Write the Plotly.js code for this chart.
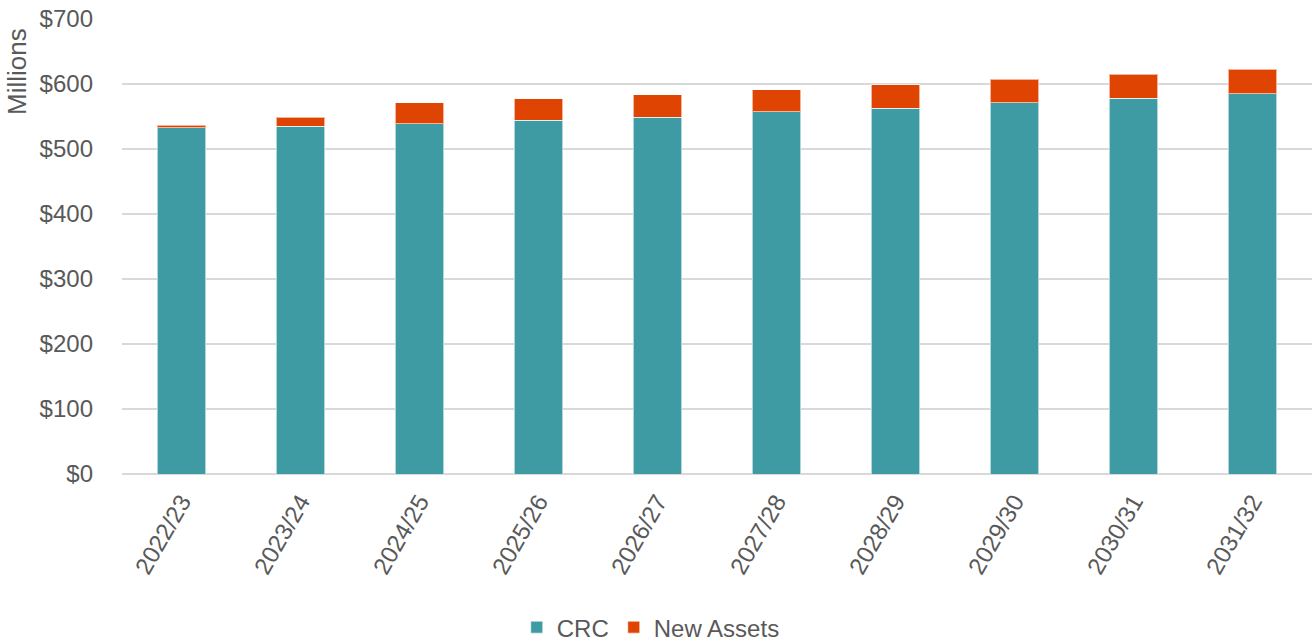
<!DOCTYPE html>
<html>
<head>
<meta charset="utf-8">
<script src="https://cdn.plot.ly/plotly-3.0.1.min.js"></script>
<style>html,body{margin:0;padding:0;background:#fff;}#chart{width:1312px;height:641px;}</style>
</head>
<body>
<div id="chart"></div>
<script>
const categories = ["2022/23","2023/24","2024/25","2025/26","2026/27","2027/28","2028/29","2029/30","2030/31","2031/32"];
const crc = [533, 535, 539, 544, 549, 557, 563, 571, 578, 585];
const newAssets = [3.5, 14, 32, 33, 34.5, 34.5, 36, 36, 37, 38];
const yTickVals = [0, 100, 200, 300, 400, 500, 600, 700];
const yTickText = ["$0","$100","$200","$300","$400","$500","$600","$700"];

const FONT = "Liberation Sans, Arial, sans-serif";
const TXT = "#595959";

const traces = [
  {type: "bar", name: "CRC", x: categories, y: crc,
   marker: {color: "#3E9BA4", line: {color: "rgba(255,255,255,0.6)", width: 1}}},
  {type: "bar", name: "New Assets", x: categories, y: newAssets,
   marker: {color: "#E04403", line: {color: "rgba(255,255,255,0.6)", width: 1}}}
];

const layout = {
  width: 1312, height: 641,
  margin: {l: 122, r: 0, t: 19, b: 167},
  barmode: "stack",
  bargap: 0.595,
  paper_bgcolor: "#fff", plot_bgcolor: "#fff",
  font: {family: FONT, color: TXT, size: 24},
  showlegend: true,
  legend: {orientation: "h", xref: "container", yref: "container", x: 0.496, xanchor: "center",
           y: 0.021, yanchor: "middle", font: {size: 24, color: TXT}, itemwidth: 30,
           traceorder: "normal"},
  xaxis: {type: "category", tickangle: -60, tickfont: {size: 24, color: TXT},
          showgrid: false, showline: false, ticks: "", zeroline: false, ticklabelstandoff: 8},
  yaxis: {range: [0, 700], tickvals: yTickVals, ticktext: yTickText,
          tickfont: {size: 24, color: TXT}, showgrid: true, gridcolor: "#d9d9d9", gridwidth: 1.5,
          zeroline: true, zerolinecolor: "#d9d9d9", zerolinewidth: 1.5,
          showline: false, ticks: "", ticklabelstandoff: 28},
  annotations: [{text: "Millions", xref: "paper", yref: "paper",
                 x: (17 - 122) / 1190, y: (474 - 72) / 455, xanchor: "center", yanchor: "middle",
                 textangle: -90, showarrow: false, font: {size: 26, color: TXT}}]
};

Plotly.newPlot("chart", traces, layout, {displayModeBar: false, staticPlot: true});
</script>
</body>
</html>
